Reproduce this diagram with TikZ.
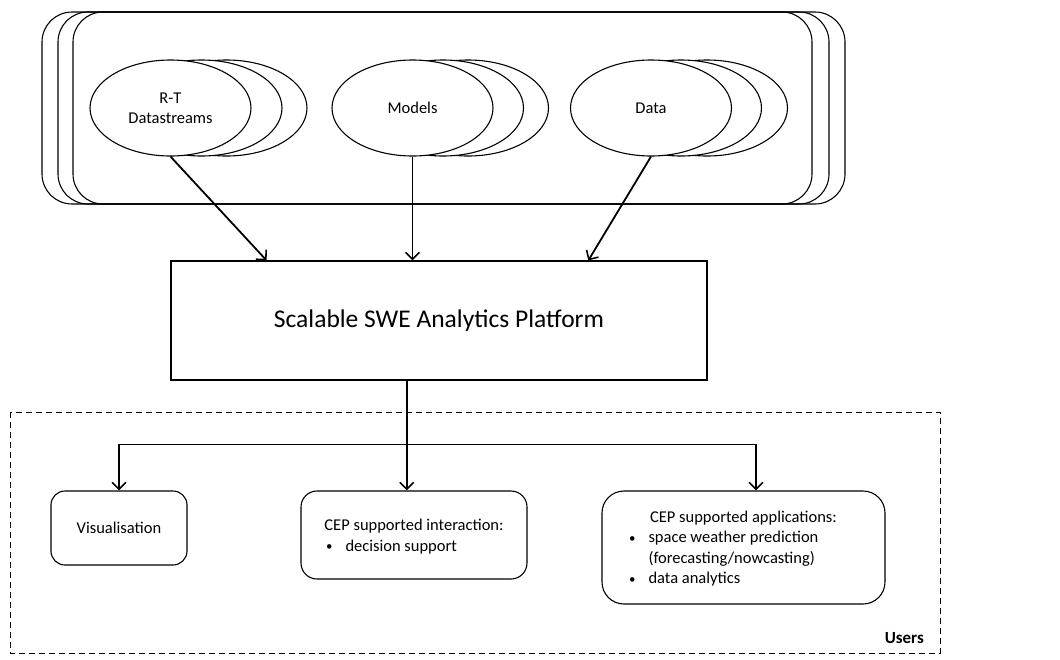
\documentclass[tikz,border=0pt]{standalone}
\usepackage{fontspec}
\usepackage{graphicx}
\setmainfont{Carlito}
\usetikzlibrary{arrows.meta,calc,shapes.geometric}
\newcommand\smallbul{\raisebox{0.6pt}{\scalebox{0.78}{•}}}
\newcommand\bitem[1]{\makebox[19.5pt][l]{\smallbul}#1}
\begin{document}
\begin{tikzpicture}[x=1pt,y=-1pt,
  outl/.style={draw, line width=1.1pt},
  ell/.style={ellipse, outl, fill=white, minimum width=161pt, minimum height=96pt, inner sep=0pt,
    font=\fontsize{16.5}{20}\selectfont, align=center},
  backell/.style={outl, fill=white},
  arr/.style={line width=1.8pt, -{Straight Barb[length=7pt,width=14pt,line width=1.6pt]}},
  arrb/.style={line width=1.8pt, {Straight Barb[length=7pt,width=14pt,line width=1.6pt]}-{Straight Barb[length=7pt,width=14pt,line width=1.6pt]}},
  rbox/.style={outl, align=center, inner sep=0pt, font=\fontsize{16.5}{20.5}\selectfont},
]
\useasboundingbox (0,0) rectangle (1060,659);

% stacked container
\draw[outl, rounded corners=30pt] (42,12) rectangle (812,204);
\draw[outl, rounded corners=30pt] (58,12) rectangle (829,204);
\draw[outl, rounded corners=30pt] (73,12) rectangle (845,204);

% R-T Datastreams stack
\draw[backell] (226.5,108) ellipse [x radius=80.5pt, y radius=48pt];
\draw[backell] (201.5,108) ellipse [x radius=80.5pt, y radius=48pt];
\node[ell] (rt) at (170.5,108) {R-T\\Datastreams};

% Models stack
\draw[backell] (468,108) ellipse [x radius=80.5pt, y radius=48pt];
\draw[backell] (443,108) ellipse [x radius=80.5pt, y radius=48pt];
\node[ell] (md) at (412.5,108) {Models};

% Data stack
\draw[backell] (707,108) ellipse [x radius=80.5pt, y radius=48pt];
\draw[backell] (681,108) ellipse [x radius=80.5pt, y radius=48pt];
\node[ell] (dt) at (651,108) {Data};

% platform
\node[outl, minimum width=536pt, minimum height=119pt, inner sep=0pt,
  font=\fontsize{25.5}{30}\selectfont] (plat) at (439,320.5) {Scalable SWE Analytics Platform};

\draw[arr] (rt.south) -- ($(plat.north west)!0.179!(plat.north east)$);
\draw[arr] (md.south) -- (md.south |- plat.north);
\draw[arr] (dt.south) -- ($(plat.north west)!0.778!(plat.north east)$);

% users area
\draw[line width=1pt, dash pattern=on 6pt off 4pt] (10,412) rectangle (940,653);
\node[anchor=east, inner sep=0pt, font=\fontsize{17}{20}\selectfont\bfseries] (users) at (924,638) {Users};

% user boxes
\node[rbox, rounded corners=14pt, minimum width=136pt, minimum height=74pt] (vis) at (119,528) {Visualisation};
\node[rbox, rounded corners=16pt, minimum width=226pt, minimum height=88pt] (inter) at (414,535)
  {\rule{0pt}{15pt}CEP supported interaction:\\\makebox[176pt][l]{\bitem{decision support}}};
\node[rbox, rounded corners=22pt, minimum width=283pt, minimum height=113pt] (apps) at (743.5,547.5)
  {\rule{0pt}{14pt}CEP supported applications:\\
   \makebox[229pt][l]{\bitem{space weather prediction}}\\
   \makebox[229pt][l]{\hspace{19.5pt}(forecasting/nowcasting)}\\
   \makebox[229pt][l]{\bitem{data analytics}}};

\coordinate (pb) at ($(plat.south west)!0.44!(plat.south east)$);
\coordinate (hy) at ($(pb)+(0,64)$);
\coordinate (a2) at ($(apps.north west)!0.544!(apps.north east)$);
\draw[arr] (pb) -- (pb |- inter.north);
\draw[arrb] (vis.north) |- (hy) -| (a2);
\end{tikzpicture}
\end{document}
